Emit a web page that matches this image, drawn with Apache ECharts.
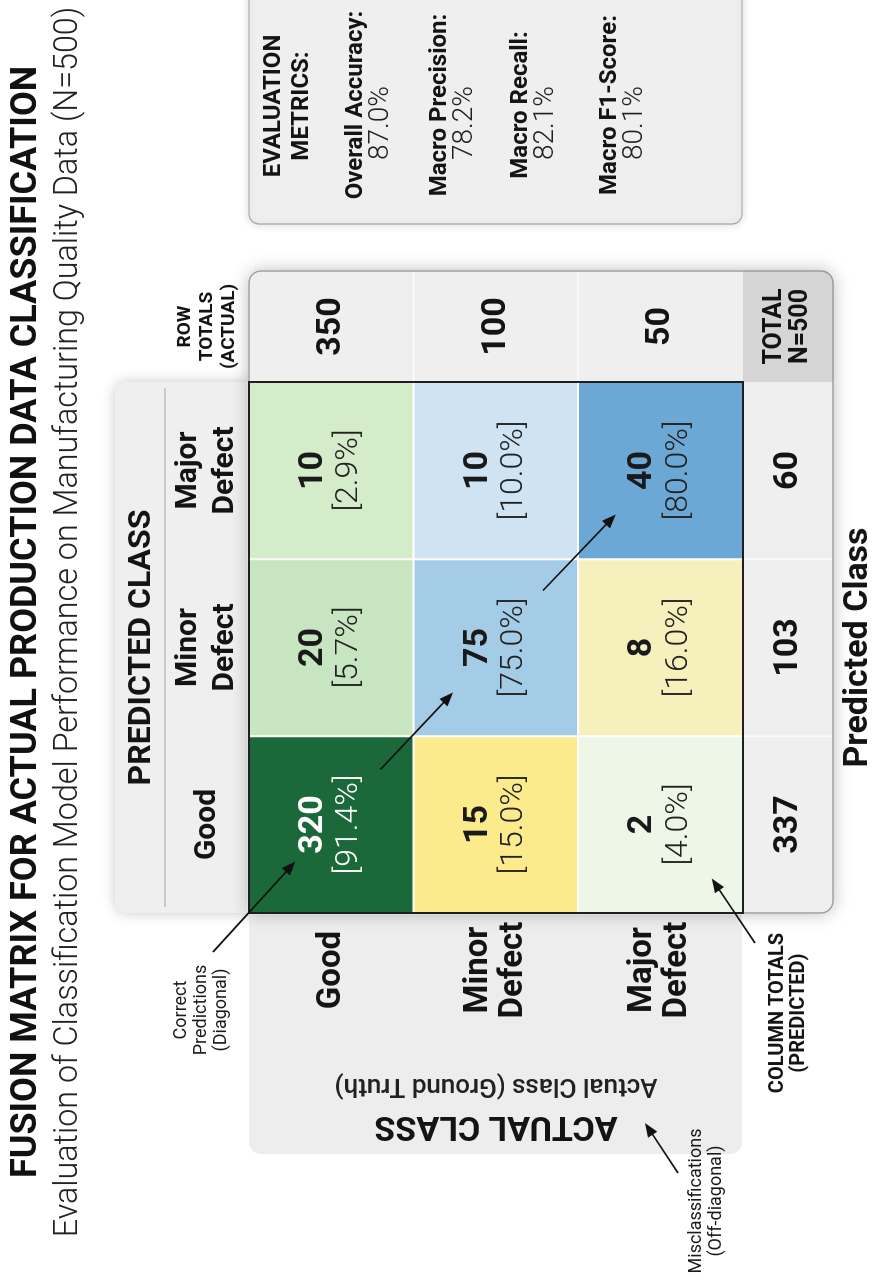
<!DOCTYPE html>
<html>
<head>
<meta charset="utf-8">
<script src="https://cdn.jsdelivr.net/npm/echarts@6/dist/echarts.min.js"></script>
<style>
html,body{margin:0;padding:0;background:#ffffff;overflow:hidden;width:879px;height:1281px;}
#chart{position:absolute;left:0;top:0;width:1281px;height:879px;transform-origin:0 0;transform:translate(0px,1281px) rotate(-90deg);}
</style>
</head>
<body>
<div id="chart"></div>
<script>
// ---------------- data ----------------
const TITLE = 'FUSION MATRIX FOR ACTUAL PRODUCTION DATA CLASSIFICATION';
const SUBTITLE = 'Evaluation of Classification Model Performance on Manufacturing Quality Data (N=500)';
const PRED_CLASSES = ['Good', 'Minor Defect', 'Major Defect'];
const ACTUAL_CLASSES = ['Good', 'Minor Defect', 'Major Defect'];
// rows = actual class, columns = predicted class
const COUNTS = [
  [320, 20, 10],
  [15, 75, 10],
  [2, 8, 40]
];
const ROW_PCT = [
  [91.4, 5.7, 2.9],
  [15.0, 75.0, 10.0],
  [4.0, 16.0, 80.0]
];
const ROW_TOTALS = [350, 100, 50];
const COL_TOTALS = [337, 103, 60];
const TOTAL_N = 500;
const METRIC_NAMES = ['Overall Accuracy:', 'Macro Precision:', 'Macro Recall:', 'Macro F1-Score:'];
const METRIC_VALUES = [87.0, 78.2, 82.1, 80.1];

// ---------------- styles ----------------
const FONT = 'Roboto, "Noto Sans", sans-serif';
const INK = '#141414';
const CELL_COLORS = [
  ['#1b693a', '#c7e5c0', '#d4ecca'],
  ['#fbeb8c', '#a5cce7', '#cfe3f2'],
  ['#eef6e7', '#f6f0bd', '#6ca8d6']
];
const PANEL = '#efefef';

const chart = echarts.init(document.getElementById('chart'), null, {renderer: 'canvas', width: 1281, height: 879});

const hidden = {axisLine: {show: false}, axisTick: {show: false}, splitLine: {show: false}, splitArea: {show: false}};

const cellData = [];
for (let i = 0; i < ACTUAL_CLASSES.length; i++) {
  for (let j = 0; j < PRED_CLASSES.length; j++) {
    cellData.push({value: [j, i, COUNTS[i][j]], itemStyle: {color: CELL_COLORS[i][j]}});
  }
}
const rowTotData = ROW_TOTALS.map((v, i) => ({value: [0, i, v], itemStyle: i === 0 ? {borderRadius: [0, 12, 0, 0]} : {}}));
const colTotData = COL_TOTALS.map((v, j) => ({value: [j, 0, v], itemStyle: j === 0 ? {borderRadius: [0, 0, 0, 12]} : {}}));
const cornerData = [{value: [0, 0, TOTAL_N], itemStyle: {borderRadius: [0, 0, 12, 0]}}];

const option = {
  animation: false,
  backgroundColor: '#ffffff',
  textStyle: {fontFamily: FONT},
  grid: [
    {left: 368, top: 249, width: 531, height: 494},
    {left: 899, top: 249, width: 111, height: 494},
    {left: 368, top: 743, width: 531, height: 90},
    {left: 899, top: 743, width: 111, height: 90}
  ],
  xAxis: [
    Object.assign({type: 'category', gridIndex: 0, data: PRED_CLASSES, position: 'top',
      axisLabel: {interval: 0, margin: 42, verticalAlign: 'middle', fontSize: 30, fontWeight: 'bold', color: INK, lineHeight: 37,
        formatter: s => s.replace(' ', '\n')},
      name: 'PREDICTED CLASS', nameLocation: 'middle', nameGap: 107,
      nameTextStyle: {fontSize: 32, fontWeight: 'bold', color: INK, verticalAlign: 'middle', align: 'center'}}, hidden),
    Object.assign({type: 'category', gridIndex: 1, data: ['ROW TOTALS (ACTUAL)'], position: 'top',
      axisLabel: {interval: 0, margin: 42, verticalAlign: 'middle', fontSize: 19, fontWeight: 'bold', color: INK, lineHeight: 22,
        formatter: () => 'ROW\nTOTALS\n(ACTUAL)'}}, hidden),
    Object.assign({type: 'category', gridIndex: 2, data: PRED_CLASSES, position: 'bottom',
      axisLabel: {show: false},
      name: 'Predicted Class', nameLocation: 'middle', nameGap: 25,
      nameTextStyle: {fontSize: 34, fontWeight: 'bold', color: INK, verticalAlign: 'middle', align: 'center'}}, hidden),
    Object.assign({type: 'category', gridIndex: 3, data: ['Total'], axisLabel: {show: false}}, hidden)
  ],
  yAxis: [
    Object.assign({type: 'category', gridIndex: 0, data: ACTUAL_CLASSES, inverse: true,
      axisLabel: {interval: 0, margin: 57, align: 'center', fontSize: 33, fontWeight: 'bold', color: INK, lineHeight: 35,
        formatter: s => s.replace(' ', '\n')},
      name: '{a|ACTUAL CLASS}\n{b|Actual Class (Ground Truth)}', nameLocation: 'middle', nameRotate: 90, nameGap: 193,
      nameTextStyle: {verticalAlign: 'middle', align: 'center',
        rich: {a: {fontSize: 34, fontWeight: 'bold', color: INK, lineHeight: 40, fontFamily: FONT},
               b: {fontSize: 26, fontWeight: 500, color: '#222', lineHeight: 40, fontFamily: FONT}}}}, hidden),
    Object.assign({type: 'category', gridIndex: 1, data: ACTUAL_CLASSES, inverse: true, axisLabel: {show: false}}, hidden),
    Object.assign({type: 'category', gridIndex: 2, data: ['COLUMN TOTALS (PREDICTED)'],
      axisLabel: {interval: 0, margin: 100, align: 'center', fontSize: 20, fontWeight: 'bold', color: INK, lineHeight: 21,
        formatter: () => 'COLUMN TOTALS\n(PREDICTED)'}}, hidden),
    Object.assign({type: 'category', gridIndex: 3, data: ['Total'], axisLabel: {show: false}}, hidden)
  ],
  series: [
    {
      type: 'heatmap', xAxisIndex: 0, yAxisIndex: 0, data: cellData,
      itemStyle: {borderColor: '#ffffff', borderWidth: 2},
      emphasis: {disabled: true},
      label: {
        show: true,
        formatter: p => {
          const j = p.value[0], i = p.value[1];
          const w = (i === 0 && j === 0);
          return '{' + (w ? 'cw' : 'c') + '|' + p.value[2] + '}\n{' + (w ? 'pw' : 'p') + '|[' + ROW_PCT[i][j].toFixed(1) + '%]}';
        },
        rich: {
          c: {fontSize: 34, fontWeight: 'bold', color: '#1a1a1a', lineHeight: 36, fontFamily: FONT},
          p: {fontSize: 32, fontWeight: 300, color: '#222222', lineHeight: 36, fontFamily: FONT},
          cw: {fontSize: 34, fontWeight: 'bold', color: '#ffffff', lineHeight: 36, fontFamily: FONT},
          pw: {fontSize: 32, fontWeight: 300, color: '#ffffff', lineHeight: 36, fontFamily: FONT}
        }
      }
    },
    {
      type: 'heatmap', xAxisIndex: 1, yAxisIndex: 1, data: rowTotData,
      itemStyle: {color: PANEL, borderColor: '#fbfbfb', borderWidth: 1.5},
      emphasis: {disabled: true},
      label: {show: true, fontSize: 34, fontWeight: 'bold', color: INK, formatter: p => String(p.value[2])}
    },
    {
      type: 'heatmap', xAxisIndex: 2, yAxisIndex: 2, data: colTotData,
      itemStyle: {color: PANEL, borderColor: '#fbfbfb', borderWidth: 1.5},
      emphasis: {disabled: true},
      label: {show: true, fontSize: 34, fontWeight: 'bold', color: INK, formatter: p => String(p.value[2])}
    },
    {
      type: 'heatmap', xAxisIndex: 3, yAxisIndex: 3, data: cornerData,
      itemStyle: {color: '#d5d5d5', borderColor: '#d5d5d5', borderWidth: 0},
      emphasis: {disabled: true},
      label: {show: true, fontSize: 25, fontWeight: 'bold', color: INK, lineHeight: 26,
        formatter: p => 'TOTAL\nN=' + p.value[2]}
    }
  ]
};
chart.setOption(option);

// ---------------- annotations ----------------
function arrow(x1, y1, x2, y2) {
  const dx = x2 - x1, dy = y2 - y1, L = Math.hypot(dx, dy), ux = dx / L, uy = dy / L;
  const hl = 14, hw = 5.5;
  const bx = x2 - ux * hl, by = y2 - uy * hl;
  return [
    {type: 'line', z: 60, shape: {x1: x1, y1: y1, x2: bx + ux * 2, y2: by + uy * 2}, style: {stroke: '#111', lineWidth: 1.7}},
    {type: 'polygon', z: 60, shape: {points: [[x2, y2], [bx - uy * hw, by + ux * hw], [bx + uy * hw, by - ux * hw]]}, style: {fill: '#111'}}
  ];
}
const C = (j, i) => chart.convertToPixel({seriesIndex: 0}, [j, i]);
const c00 = C(0, 0), c11 = C(1, 1), c22 = C(2, 2), c02 = C(0, 2);

const txt = (x, y, text, size, weight, extra) => ({
  type: 'text', x: x, y: y, z: 55,
  style: Object.assign({text: text, fontSize: size, fontWeight: weight, fontFamily: FONT, fill: INK, align: 'center', verticalAlign: 'middle'}, extra || {})
});

const graphics = [
  // panels
  {type: 'rect', z: 0, shape: {x: 368, y: 115, width: 531, height: 140, r: [12, 12, 0, 0]},
    style: {fill: PANEL, shadowBlur: 14, shadowColor: 'rgba(0,0,0,0.22)'}},
  {type: 'line', z: 1, shape: {x1: 374, y1: 165, x2: 893, y2: 165}, style: {stroke: '#bdbdbd', lineWidth: 1.5}},
  {type: 'rect', z: 0, shape: {x: 127, y: 249, width: 245, height: 493, r: [12, 0, 0, 12]},
    style: {fill: '#ededed'}},
  {type: 'rect', z: 0, shape: {x: 368, y: 249, width: 642, height: 584, r: [0, 12, 12, 12]},
    style: {fill: PANEL, shadowBlur: 18, shadowColor: 'rgba(0,0,0,0.28)'}},
  {type: 'rect', z: 40, shape: {x: 368, y: 249, width: 642, height: 584, r: [0, 12, 12, 12]},
    style: {fill: 'none', stroke: '#9d9d9d', lineWidth: 1.5}},
  {type: 'rect', z: 41, shape: {x: 368, y: 249, width: 531, height: 494},
    style: {fill: 'none', stroke: '#1f1f1f', lineWidth: 2}},
  // evaluation box
  {type: 'rect', z: 0, shape: {x: 1057, y: 249, width: 260, height: 493, r: 10},
    style: {fill: PANEL, stroke: '#a3a3a3', lineWidth: 1.2, shadowBlur: 8, shadowColor: 'rgba(0,0,0,0.15)'}},
  txt(1175, 288, 'EVALUATION\nMETRICS:', 24, 'bold', {lineHeight: 28}),
  // titles
  txt(659, 26.5, TITLE, 36, 'bold', {fill: '#111'}),
  txt(659, 69, SUBTITLE, 32.3, 300, {fill: '#222'}),
  // annotation labels
  txt(271, 201, 'Correct\nPredictions\n(Diagonal)', 18, 'normal', {lineHeight: 20, fill: '#1a1a1a'}),
  txt(80, 706, 'Misclassifications\n(Off-diagonal)', 18, 'normal', {lineHeight: 20, fill: '#1a1a1a'})
];
const LABEL_V = [356, 440, 521, 610];
METRIC_NAMES.forEach((n, k) => {
  graphics.push(txt(1176, LABEL_V[k], n, 24, 'bold'));
  graphics.push(txt(1158, LABEL_V[k] + 25, METRIC_VALUES[k].toFixed(1) + '%', 28, 300, {fill: '#222'}));
});
[].concat(
  arrow(c00[0] + 55, c00[1] + 49, c11[0] - 45, c11[1] - 43),
  arrow(c11[0] + 57, c11[1] + 47, c22[0] - 44, c22[1] - 45),
  arrow(329, 213, c00[0] - 37, c00[1] - 36),
  arrow(338, 755, c02[0] - 54, c02[1] + 51),
  arrow(108, 678, 158, 645)
).forEach(g => graphics.push(g));

chart.setOption({graphic: {elements: graphics}});
</script>
</body>
</html>
